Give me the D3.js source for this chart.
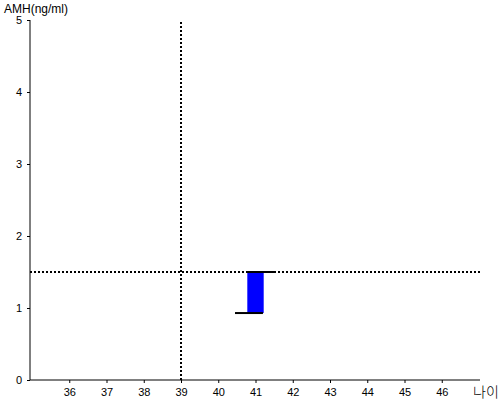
<!DOCTYPE html>
<html>
<head>
<meta charset="utf-8">
<script src="https://cdn.jsdelivr.net/npm/d3@7"></script>
<style>
  body { margin: 0; background: #fff; }
  text { font-family: "Liberation Sans", Arial, sans-serif; fill: #000; }
</style>
</head>
<body>
<div id="chart"></div>
<script>
// data
const xTicks = [36, 37, 38, 39, 40, 41, 42, 43, 44, 45, 46];
const yTicks = [0, 1, 2, 3, 4, 5];
const refAge = 39;      // vertical dotted line
const refAmh = 1.5;     // horizontal dotted line
const barAge = [41];
const barLow = [0.93];
const barHigh = [1.5];
const capTop = [[40.75, 41.5]];   // top cap from..to (age)
const capBottom = [[40.45, 41.2]]; // bottom cap from..to (age)

const w = 500, h = 400;

const x = d3.scaleLinear().domain([35, 47]).range([32, 479]);
const y = d3.scaleLinear().domain([0, 5]).range([380, 20]);

const svg = d3.select("#chart").append("svg")
  .attr("width", w).attr("height", h);

// axes
const xAxis = d3.axisBottom(x).tickValues(xTicks).tickFormat(d3.format("d"))
  .tickSize(3).tickSizeOuter(0);
const gx = svg.append("g").attr("transform", "translate(0,380)").call(xAxis);
gx.select(".domain").remove();
gx.selectAll("text").attr("font-size", 11).attr("dy", "0.9em")
  .style("font-family", "'Liberation Sans', Arial, sans-serif");
svg.append("line").attr("x1", 30).attr("x2", 480)
  .attr("y1", y(0)).attr("y2", y(0)).attr("stroke", "#000");

const yAxis = d3.axisLeft(y).tickValues(yTicks).tickFormat(d3.format("d"))
  .tickSize(3).tickSizeOuter(0);
const gy = svg.append("g").attr("transform", "translate(30,0)").call(yAxis);
gy.select(".domain").remove();
gy.selectAll("text").attr("font-size", 11).attr("x", -8)
  .style("font-family", "'Liberation Sans', Arial, sans-serif");
svg.append("line").attr("x1", 30).attr("x2", 30)
  .attr("y1", y(5)).attr("y2", y(0)).attr("stroke", "#000");

// reference lines
svg.append("line")
  .attr("x1", 30).attr("x2", 480)
  .attr("y1", y(refAmh)).attr("y2", y(refAmh))
  .attr("stroke", "#000").attr("stroke-width", 2).attr("stroke-dasharray", "2,2");
svg.append("line")
  .attr("x1", x(refAge)).attr("x2", x(refAge))
  .attr("y1", y(5) + 2).attr("y2", y(0))
  .attr("stroke", "#000").attr("stroke-width", 2).attr("stroke-dasharray", "2,2");

// bar
const bw = x(41.22) - x(41);
svg.selectAll("rect.bar").data(barAge).enter().append("rect")
  .attr("class", "bar")
  .attr("x", d => x(d) - bw)
  .attr("width", bw * 2)
  .attr("y", (d, i) => y(barHigh[i]))
  .attr("height", (d, i) => y(barLow[i]) - y(barHigh[i]))
  .attr("fill", "#0000ff");

svg.selectAll("line.captop").data(capTop).enter().append("line")
  .attr("x1", d => x(d[0])).attr("x2", d => x(d[1]))
  .attr("y1", (d, i) => y(barHigh[i])).attr("y2", (d, i) => y(barHigh[i]))
  .attr("stroke", "#000").attr("stroke-width", 2);
svg.selectAll("line.capbot").data(capBottom).enter().append("line")
  .attr("x1", d => x(d[0])).attr("x2", d => x(d[1]))
  .attr("y1", (d, i) => y(barLow[i])).attr("y2", (d, i) => y(barLow[i]))
  .attr("stroke", "#000").attr("stroke-width", 2);

// axis titles
svg.append("text").attr("x", 4).attr("y", 13).attr("font-size", 12).text("AMH(ng/ml)");
svg.append("text").attr("x", 473).attr("y", 397).attr("font-size", 14)
  .style("font-family", "'Noto Sans CJK KR', sans-serif")
  .style("font-weight", 300).style("fill", "#000").text("나이");
</script>
</body>
</html>
